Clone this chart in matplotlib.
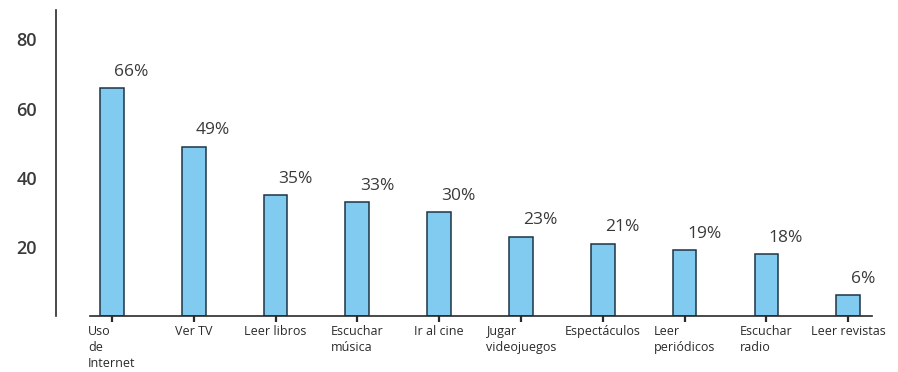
import matplotlib.pyplot as plt
import numpy as np

actividades = ["Uso\nde\nInternet", "Ver TV", "Leer libros", "Escuchar\nmúsica", "Ir al cine",
               "Jugar\nvideojuegos", "Espectáculos", "Leer\nperiódicos", "Escuchar\nradio", "Leer revistas"]
porcentajes = [66, 49, 35, 33, 30, 23, 21, 19, 18, 6]
y_ticks = [20, 40, 60, 80]

plt.rcParams['font.family'] = ['Open Sans', 'DejaVu Sans']

fig = plt.figure(figsize=(8.98, 3.72), dpi=100)
ax = fig.add_axes([0.100, 0.150, 0.871, 0.823])

# spines first: moving the left spine rebuilds the y ticks
for side in ("top", "right"):
    ax.spines[side].set_visible(False)
ax.spines["left"].set_position(("outward", 24))
ax.spines["left"].set_color("#2a2a2a")
ax.spines["left"].set_linewidth(1.2)
ax.spines["bottom"].set_color("#2a2a2a")
ax.spines["bottom"].set_linewidth(1.2)

x = np.arange(len(actividades))
bars = ax.bar(x, porcentajes, width=0.29, color="#82CBF0", edgecolor="#1d3444", linewidth=1.1)

for bar, val in zip(bars, porcentajes):
    ax.annotate(f"{val}%", (bar.get_x() + bar.get_width() * 0.6, val),
                xytext=(0, 6), textcoords="offset points", ha="left", va="bottom",
                fontsize=12.5, color="#3a3a3a")

ax.set_xlim(-0.27, 9.29)
ax.set_ylim(0, 88.5)

ax.tick_params(axis="x", direction="out", length=4, width=1.6, color="#2a2a2a", pad=2)
ax.tick_params(axis="y", length=0, pad=14, labelsize=13, labelcolor="#3a3a3a")

ax.set_xticks(x)
ax.set_xticklabels(actividades, fontsize=9, color="#2a2a2a", multialignment="left",
                   linespacing=1.3)

ax.set_yticks(y_ticks)
ax.set_yticklabels([str(v) for v in y_ticks], fontsize=13, color="#3a3a3a", fontweight="semibold")

fig.savefig("out.png", dpi=100)
